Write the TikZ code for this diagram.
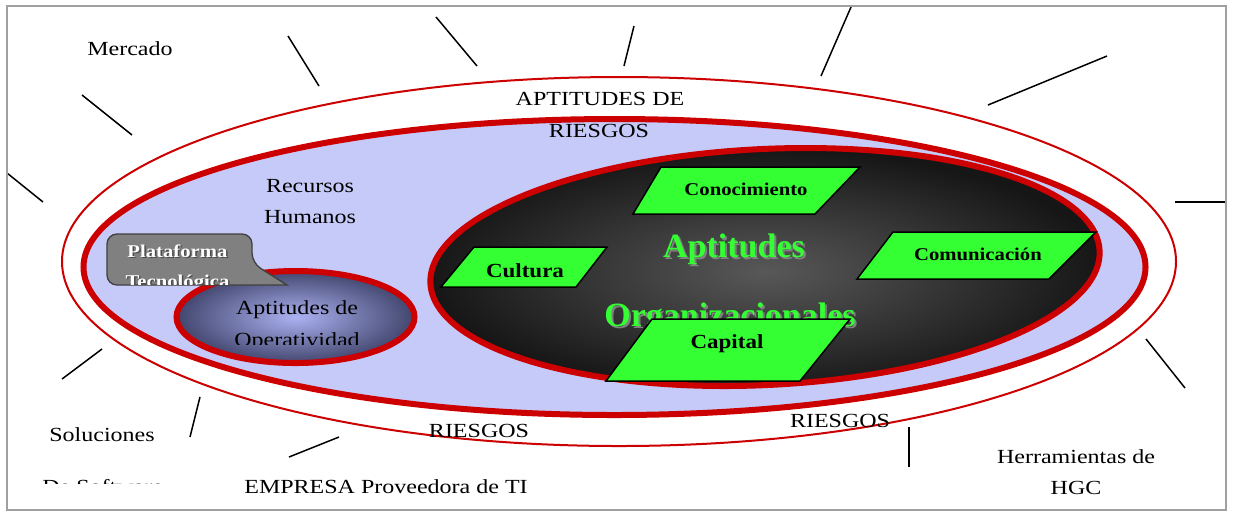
\documentclass[tikz,border=0pt]{standalone}
\usepackage{fontspec}
\setmainfont{Liberation Serif}[FakeStretch=1.2]
\newfontfamily\lblfont{Liberation Serif}[FakeStretch=1.15]
\newfontfamily\bigfont{Liberation Serif}
\definecolor{myred}{RGB}{204,0,0}
\definecolor{lav}{RGB}{198,202,248}
\definecolor{grn}{RGB}{51,255,51}
\definecolor{framegray}{RGB}{160,160,160}
\definecolor{darkin}{RGB}{88,88,88}
\definecolor{darkout}{RGB}{22,22,22}
\definecolor{smallin}{RGB}{172,178,242}
\definecolor{smallout}{RGB}{66,70,110}
\definecolor{callgray}{RGB}{128,128,128}
\begin{document}
\begin{tikzpicture}[x=0.6pt,y=-0.6pt,
  txt/.style={font=\fontsize{12}{14}\selectfont, inner sep=0pt, anchor=base},
  lbl/.style={font=\lblfont\bfseries\fontsize{10.8}{13}\selectfont, inner sep=0pt, anchor=base},
  lblbig/.style={font=\lblfont\bfseries\fontsize{12}{14}\selectfont, inner sep=0pt, anchor=base},
  bigtxt/.style={font=\bigfont\bfseries\fontsize{20.4}{24}\selectfont, inner sep=0pt, anchor=base},
  calltxt/.style={font=\lblfont\bfseries\fontsize{10.8}{13}\selectfont, inner sep=0pt, anchor=base},
  pgram/.style={fill=grn, draw=black, line width=0.9pt, line join=miter},
  ray/.style={draw=black, line width=0.9pt},
  thinring/.style={draw=myred, line width=1.2pt},
  thickring/.style={draw=myred, line width=3.6pt}]
\useasboundingbox (0,0) rectangle (1233,512);
\fill[white] (0,0) rectangle (1233,512);

% outer thin ellipse
\draw[thinring] (619,261.5) ellipse [x radius=557, y radius=184.5];
% blue ellipse
\draw[thickring, fill=lav] (614.5,267) ellipse [x radius=531, y radius=148];

% labels near top
\node[txt] (apt) at (600,105) {APTITUDES DE};
\node[txt] (ries1) at (599,137) {RIESGOS};
\node[txt] (rec) at (310,192) {Recursos};
\node[txt] (hum) at (310,223) {Humanos};

% dark ellipse
\draw[thickring, inner color=darkin, outer color=darkout, rotate around={2.8:(765,267)}]
  (765,267) ellipse [x radius=335, y radius=118];

% parallelograms
\draw[pgram] (661,167) -- (860,167) -- (815,214) -- (633,214) -- cycle;
\node[lbl] (cono) at (746,195) {Conocimiento};
\draw[pgram] (474,247) -- (607,247) -- (576,287) -- (441,287) -- cycle;
\node[lblbig] (cult) at (525,277) {Cultura};
\draw[pgram] (893,232) -- (1096,232) -- (1049,279) -- (857,279) -- cycle;
\node[lbl] (comu) at (978,260) {Comunicación};

% big green text
\node[bigtxt, text=callgray] (apts) at (736,259) {Aptitudes};
\node[bigtxt, text=grn] (aptg) at (734,257) {Aptitudes};
\node[bigtxt, text=callgray] (orgs) at (732,328) {Organizacionales};
\node[bigtxt, text=grn] (orgg) at (730,326) {Organizacionales};

% capital
\draw[pgram] (652,319) -- (850,319) -- (800,381) -- (606,381) -- cycle;
\node[lblbig] (capi) at (727,348) {Capital};

% small ellipse
\draw[thickring, inner color=smallin, outer color=smallout]
  (295.5,317) ellipse [x radius=119, y radius=46];
\begin{scope}
  \clip (150,280) rectangle (440,344);
  \node[txt] (apd) at (297,314) {Aptitudes de};
  \node[txt] (oper) at (297,346) {Operatividad};
\end{scope}

% callout
\draw[fill=callgray, draw=black!75, line width=0.8pt]
  (180,285) [rounded corners=6pt] -- (107,285) -- (107,234) -- (252,234) -- (252,263) [sharp corners] -- (287,285) -- cycle;
\begin{scope}
  \clip (108,235) rectangle (251,284);
  \node[calltxt, text=black!70] (plats) at (179,258.5) {Plataforma};
  \node[calltxt, text=white] (plat) at (177.5,257) {Plataforma};
  \node[calltxt, text=black!70] (tecs) at (179,288.5) {Tecnológica};
  \node[calltxt, text=white] (tec) at (177.5,287) {Tecnológica};
\end{scope}

% outer labels
\node[txt] (merc) at (130,55) {Mercado};
\node[txt] (solu) at (102,441) {Soluciones};
\begin{scope}
  \clip (30,470) rectangle (200,483.3);
  \node[txt, anchor=base west] (desoft) at (42,493) {De Software};
\end{scope}
\node[txt] (empr) at (386,493) {EMPRESA Proveedora de TI};
\node[txt] (ries2) at (479,437) {RIESGOS};
\node[txt] (ries3) at (840,427) {RIESGOS};
\node[txt] (herr) at (1076,463) {Herramientas de};
\node[txt] (hgc) at (1076,494) {HGC};

% rays
\draw[ray] (82,95) -- (132,135);
\draw[ray] (288,36) -- (319,86);
\draw[ray] (7,173) -- (43,202);
\draw[ray] (436,17) -- (477,66);
\draw[ray] (634,26) -- (624,66);
\draw[ray] (851,7) -- (821,76);
\draw[ray] (1107,56) -- (988,105);
\draw[ray] (1175,202) -- (1226,202);
\draw[ray] (1146,339) -- (1185,388);
\draw[ray] (909,427) -- (909,467);
\draw[ray] (289,457) -- (339,437);
\draw[ray] (190,437) -- (200,397);
\draw[ray] (62,379) -- (102,349);

% frame
\draw[framegray, line width=1.2pt] (7,6) rectangle (1226,510);
\end{tikzpicture}
\end{document}
